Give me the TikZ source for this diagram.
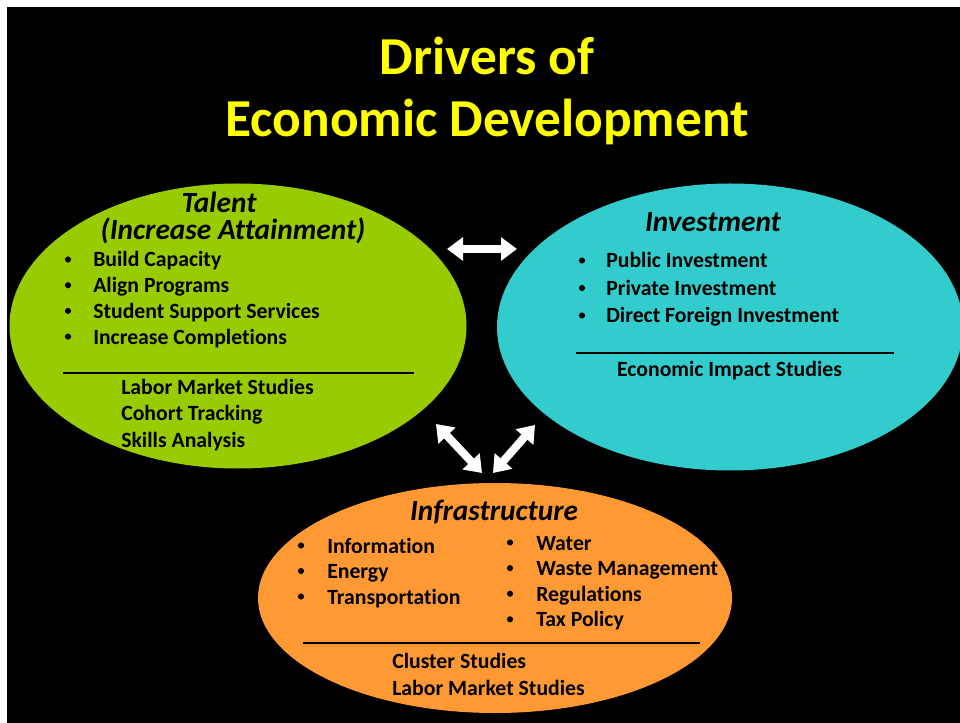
\documentclass[tikz,border=0pt]{standalone}
\usepackage{fontspec}
\setmainfont{Carlito}[Ligatures=NoCommon]
\usetikzlibrary{arrows.meta,shapes.geometric}

\definecolor{talentgreen}{HTML}{99CC00}
\definecolor{investteal}{HTML}{33CCCC}
\definecolor{infraorange}{HTML}{FF9933}
\definecolor{titleyellow}{HTML}{FFFF00}

\begin{document}
\begin{tikzpicture}[x=0.75pt,y=-0.75pt,
  blob/.style={ellipse, inner sep=0pt, draw=none},
  titletext/.style={anchor=base, inner sep=0pt, text=titleyellow,
    font=\fontsize{40}{48}\selectfont\bfseries},
  heading/.style={anchor=base, inner sep=0pt, text=black,
    font=\fontsize{22}{26}\selectfont\bfseries\itshape},
  item/.style={anchor=base west, inner sep=0pt, text=black,
    font=\fontsize{16.3}{19}\selectfont\bfseries},
  dot/.style={circle, fill=black, inner sep=0pt, minimum size=4.6pt},
  rule/.style={line width=1.6pt, black},
  bigarrow/.style={white, line width=6pt,
    {Triangle[width=17pt,length=12pt]}-{Triangle[width=17pt,length=12pt]}}
]
% page and slide background
\useasboundingbox (0,0) rectangle (960,723);
\fill[white] (0,0) rectangle (960,723);
\fill[black] (7,7) rectangle (960,723);
\clip (7,7) rectangle (960,723);

% title
\node[titletext] (title1) at (487,75) {Drivers of};
\node[titletext] (title2) at (487,137) {Economic Development};

% the three drivers
\node[blob, fill=talentgreen, minimum width=342.75pt, minimum height=213.75pt] (talent) at (238,326) {};
\node[blob, fill=investteal, minimum width=349.5pt, minimum height=215.25pt] (invest) at (730,327) {};
\node[blob, fill=infraorange, minimum width=355.5pt, minimum height=172.5pt] (infra) at (495,598) {};

% Talent
\node[heading] (talentA) at (219,213) {Talent};
\node[heading] (talentB) at (233,240) {(Increase Attainment)};
\foreach \t [count=\i] in {Build Capacity, Align Programs, Student Support Services, Increase Completions} {
  \node[dot] (talentdot\i) at (68,{267-7.5+25.7*(\i-1)}) {};
  \node[item] (talentitem\i) at (93,{267+25.7*(\i-1)}) {\t};
}
\draw[rule] (63,373) -- (414,373);
\foreach \t [count=\i] in {Labor Market Studies, Cohort Tracking, Skills Analysis} {
  \node[item] (talentstudy\i) at (121,{395+26*(\i-1)}) {\t};
}

% Investment
\node[heading] (investA) at (713,232) {Investment};
\foreach \t [count=\i] in {Public Investment, Private Investment, Direct Foreign Investment} {
  \node[dot] (investdot\i) at (582,{268-7.5+27.5*(\i-1)}) {};
  \node[item] (investitem\i) at (606,{268+27.5*(\i-1)}) {\t};
}
\draw[rule] (576,353) -- (894,353);
\node[item, anchor=base] (investstudy) at (729.5,377) {Economic Impact Studies};

% Infrastructure
\node[heading] (infraA) at (494,520) {Infrastructure};
\foreach \t [count=\i] in {Information, Energy, Transportation} {
  \node[dot] (infradotL\i) at (301,{553-7.5+25.5*(\i-1)}) {};
  \node[item] (infraitemL\i) at (327,{553+25.5*(\i-1)}) {\t};
}
\foreach \t [count=\i] in {Water, Waste Management, Regulations, Tax Policy} {
  \node[dot] (infradotR\i) at (510,{550-7.5+25.6*(\i-1)}) {};
  \node[item] (infraitemR\i) at (536,{550+25.6*(\i-1)}) {\t};
}
\draw[rule] (303,643) -- (700,643);
\node[item] (infrastudy1) at (392,668) {Cluster Studies};
\node[item] (infrastudy2) at (392,695) {Labor Market Studies};

% two-way links between the drivers
\coordinate (ti) at (447,249);
\coordinate (it) at (517,249);
\coordinate (tf) at (436,424);
\coordinate (ft) at (482,473);
\coordinate (if) at (535,425);
\coordinate (fi) at (493,473);
\draw[bigarrow] (ti) -- (it);
\draw[bigarrow] (tf) -- (ft);
\draw[bigarrow] (if) -- (fi);
\end{tikzpicture}
\end{document}
